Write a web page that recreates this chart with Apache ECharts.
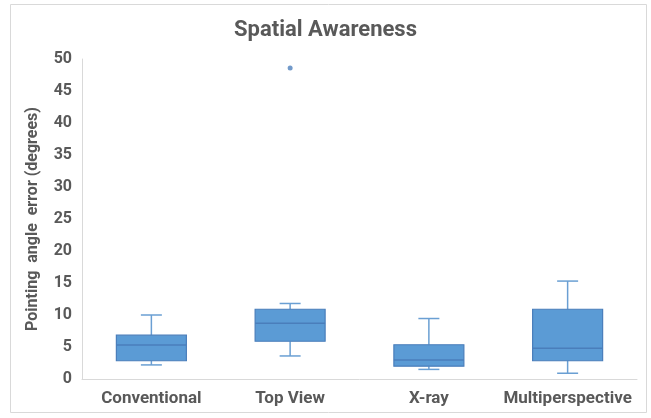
<!DOCTYPE html>
<html>
<head>
<meta charset="utf-8">
<script src="https://cdn.jsdelivr.net/npm/echarts@6/dist/echarts.min.js"></script>
<style>
  html, body { margin: 0; padding: 0; background: #fff; }
  #chart { width: 651px; height: 418px; }
</style>
</head>
<body>
<div id="chart"></div>
<script>
  // data
  const categories = ['Conventional', 'Top View', 'X-ray', 'Multiperspective']
  // [min, Q1, median, Q3, max]
  const boxValues = [
    [2.2, 2.85, 5.3, 6.85, 10.0],
    [3.6, 5.9, 8.7, 10.9, 11.8],
    [1.5, 2.0, 2.95, 5.35, 9.45],
    [0.9, 2.85, 4.8, 10.9, 15.3],
  ]
  const outliers = [['Top View', 48.6]]
  const yTicks = { min: 0, max: 50, interval: 5 }

  const myChart = echarts.init(document.getElementById('chart'))
  const textColor = '#595959'
  const font = 'Roboto, "Noto Sans", sans-serif'
  const boxFill = '#5B9BD5'
  const boxEdge = '#4A7EBB'
  const whiskerColor = '#6A9FD3'

  // excel-style box: narrow whisker caps, box with darker edge
  function renderBox(params, api) {
    const idx = api.value(0)
    const [lo, q1, med, q3, hi] = [1, 2, 3, 4, 5].map((i) => api.value(i))
    const pLo = api.coord([idx, lo])
    const pQ1 = api.coord([idx, q1])
    const pMed = api.coord([idx, med])
    const pQ3 = api.coord([idx, q3])
    const pHi = api.coord([idx, hi])
    const x = pMed[0]
    const half = 35
    const cap = 10.5
    const whisk = { stroke: whiskerColor, lineWidth: 1.5 }
    return {
      type: 'group',
      children: [
        { type: 'line', shape: { x1: x, y1: pHi[1], x2: x, y2: pQ3[1] }, style: whisk },
        { type: 'line', shape: { x1: x - cap, y1: pHi[1], x2: x + cap, y2: pHi[1] }, style: whisk },
        { type: 'line', shape: { x1: x, y1: pLo[1], x2: x, y2: pQ1[1] }, style: whisk },
        { type: 'line', shape: { x1: x - cap, y1: pLo[1], x2: x + cap, y2: pLo[1] }, style: whisk },
        {
          type: 'rect',
          shape: { x: x - half, y: pQ3[1], width: half * 2, height: pQ1[1] - pQ3[1] },
          style: { fill: boxFill, stroke: boxEdge, lineWidth: 1.2 },
        },
        {
          type: 'line',
          shape: { x1: x - half, y1: pMed[1], x2: x + half, y2: pMed[1] },
          style: { stroke: boxEdge, lineWidth: 1.5 },
        },
      ],
    }
  }

  const option = {
    animation: false,
    title: {
      text: 'Spatial Awareness',
      left: 'center',
      top: 14,
      textStyle: { color: textColor, fontSize: 22, fontWeight: 'bold', fontFamily: font },
    },
    graphic: [
      {
        type: 'rect',
        shape: { x: 10.5, y: 4.5, width: 636, height: 408 },
        style: { fill: 'none', stroke: '#D9D9D9', lineWidth: 1 },
        silent: true,
      },
    ],
    grid: { left: 82, right: 14, top: 59, bottom: 39 },
    xAxis: {
      type: 'category',
      data: categories,
      axisLine: { lineStyle: { color: '#D9D9D9', width: 1 } },
      axisTick: { show: false },
      axisLabel: {
        interval: 0,
        color: textColor,
        fontSize: 17,
        fontWeight: 'bold',
        fontFamily: font,
        margin: 11,
      },
      splitLine: { show: false },
    },
    yAxis: {
      type: 'value',
      min: yTicks.min,
      max: yTicks.max,
      interval: yTicks.interval,
      name: 'Pointing  angle  error (degrees)',
      nameLocation: 'middle',
      nameGap: 41,
      nameTextStyle: { color: textColor, fontSize: 16, fontWeight: 'bold', fontFamily: font },
      axisLine: { show: true, lineStyle: { color: '#D9D9D9', width: 1 } },
      axisTick: { show: false },
      axisLabel: { color: textColor, fontSize: 16, fontWeight: 'bold', fontFamily: font, margin: 10 },
      splitLine: { show: false },
    },
    series: [
      {
        type: 'custom',
        renderItem: renderBox,
        data: boxValues.map((v, i) => [i, ...v]),
        encode: { x: 0, y: [1, 2, 3, 4, 5] },
      },
      {
        type: 'scatter',
        data: outliers,
        symbolSize: 5,
        itemStyle: { color: '#4F81BD' },
      },
    ],
  }

  myChart.setOption(option)
</script>
</body>
</html>
